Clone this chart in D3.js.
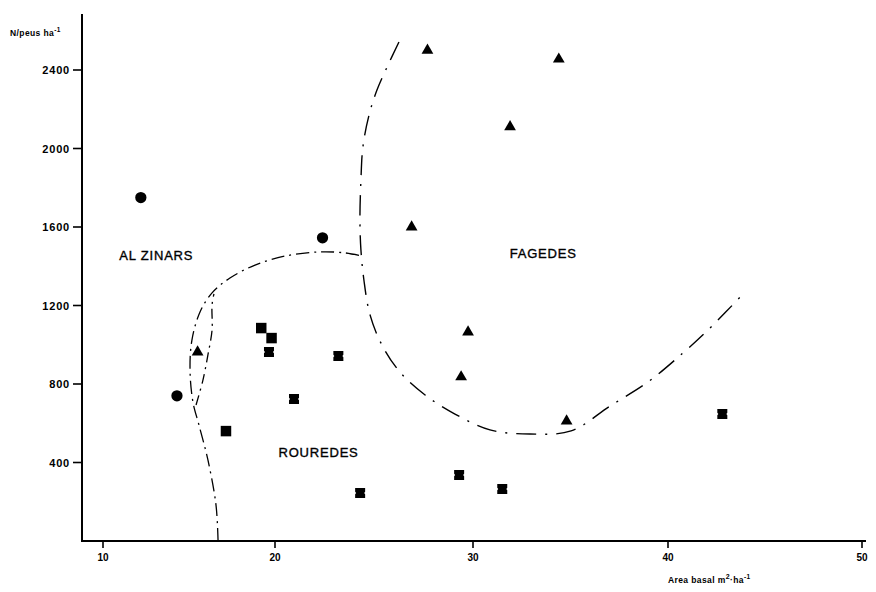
<!DOCTYPE html>
<html>
<head>
<meta charset="utf-8">
<script src="https://cdn.jsdelivr.net/npm/d3@7"></script>
<style>
  body { margin: 0; background: #fff; }
  svg { display: block; font-family: "Liberation Sans", Arial, sans-serif; }
</style>
</head>
<body>
<div id="chart"></div>
<script>
// points [area basal, peus/ha]
const alzinars = [[12.2, 1750], [14.3, 740], [22.4, 1545]];
const fagedes = [[27.7, 2500], [34.4, 2455], [31.9, 2110], [26.9, 1600],
                 [29.75, 1065], [29.4, 836], [34.8, 611], [15.5, 963]];
const rouredesPlens = [[19.2, 1085], [19.8, 1034], [17.15, 560]];
const rouredesMixtes = [[19.65, 963], [23.2, 943], [20.96, 724], [24.3, 245],
                        [29.3, 336], [31.5, 265], [42.8, 647]];

// limits between groups (hand drawn on the original)
const limitAlzinars = [[16.69, 0], [16.57, 183], [16.1, 413], [15.58, 591], [15.23, 708],
  [15.06, 871], [15.17, 1024], [15.64, 1167], [16.34, 1264], [17.38, 1340],
  [18.84, 1406], [20.51, 1452], [22.27, 1473], [23.54, 1468], [24.39, 1452]];
const limitAlzinarsInner = [[15.41, 693], [15.81, 820], [16.1, 948], [16.34, 1075],
  [16.34, 1203], [16.45, 1259]];
const limitFagedes = [[26.26, 2543], [25.66, 2415], [25.15, 2298], [24.75, 2171],
  [24.44, 2008], [24.34, 1839], [24.29, 1636], [24.34, 1483], [24.49, 1330],
  [24.8, 1152], [25.4, 999], [26.31, 861], [27.58, 744], [29.09, 647], [30.87, 566],
  [32.92, 545], [35.03, 561], [37.03, 688], [38.97, 810], [40.77, 958],
  [42.06, 1075], [44.02, 1274]];

const xTicks = [10, 20, 30, 40, 50];
const yTicks = [400, 800, 1200, 1600, 2000, 2400];

const labels = [
  {text: "AL ZINARS", x: 13.1, y: 1430},
  {text: "FAGEDES", x: 33.6, y: 1440},
  {text: "ROUREDES", x: 22.2, y: 430}
];

const width = 876, height = 592;

const svg = d3.select("#chart").append("svg")
  .attr("width", width)
  .attr("height", height);

// the drawn axis is not quite regular, so the scale follows the ticks
const x = d3.scaleLinear().domain(xTicks).range([103, 275, 473, 668, 862]);
const y = d3.scaleLinear().domain([0, 2400]).range([541, 70]);

// axes
svg.append("line")
  .attr("x1", 82).attr("x2", 82).attr("y1", 14).attr("y2", 542)
  .attr("stroke", "#000").attr("stroke-width", 2);
svg.append("line")
  .attr("x1", 81).attr("x2", 866).attr("y1", 541).attr("y2", 541)
  .attr("stroke", "#000").attr("stroke-width", 2);

const yAxis = svg.append("g");
yAxis.selectAll("line").data(yTicks).enter().append("line")
  .attr("x1", 73).attr("x2", 82)
  .attr("y1", d => y(d)).attr("y2", d => y(d))
  .attr("stroke", "#000").attr("stroke-width", 1.6);
yAxis.selectAll("text").data(yTicks).enter().append("text")
  .attr("x", 70).attr("y", d => y(d) + 4)
  .attr("text-anchor", "end")
  .style("font-size", "11px").style("font-weight", "bold").style("letter-spacing", "0.8px")
  .text(d => d);

const xAxis = svg.append("g");
xAxis.selectAll("line").data(xTicks).enter().append("line")
  .attr("x1", d => x(d)).attr("x2", d => x(d))
  .attr("y1", 541).attr("y2", 548)
  .attr("stroke", "#000").attr("stroke-width", 1.6);
xAxis.selectAll("text").data(xTicks).enter().append("text")
  .attr("x", d => x(d)).attr("y", 561)
  .attr("text-anchor", "middle")
  .style("font-size", "10px").style("font-weight", "bold")
  .text(d => d);

// axis titles
const yTitle = svg.append("text")
  .attr("x", 10).attr("y", 36)
  .style("font-size", "8.5px").style("font-weight", "bold").style("letter-spacing", "0.4px");
yTitle.append("tspan").text("N/peus ha");
yTitle.append("tspan").attr("dy", -4).style("font-size", "6.5px").text("-1");

const xTitle = svg.append("text")
  .attr("x", 668).attr("y", 583)
  .style("font-size", "8.5px").style("font-weight", "bold").style("letter-spacing", "0.4px");
xTitle.append("tspan").text("Area basal m");
xTitle.append("tspan").attr("dy", -4).style("font-size", "7px").text("2");
xTitle.append("tspan").attr("dy", 4).text("\u00b7ha");
xTitle.append("tspan").attr("dy", -4).style("font-size", "6.5px").text("-1");

// limits
const line = d3.line()
  .x(d => x(d[0]))
  .y(d => y(d[1]))
  .curve(d3.curveCatmullRom);

svg.append("path").datum(limitAlzinars)
  .attr("d", line).attr("fill", "none").attr("stroke", "#000")
  .attr("stroke-width", 1.3).attr("stroke-dasharray", "13,5,2,5");
svg.append("path").datum(limitAlzinarsInner)
  .attr("d", line).attr("fill", "none").attr("stroke", "#000")
  .attr("stroke-width", 1.3).attr("stroke-dasharray", "10,5,2,5");
svg.append("path").datum(limitFagedes)
  .attr("d", line).attr("fill", "none").attr("stroke", "#000")
  .attr("stroke-width", 1.4).attr("stroke-dasharray", "20,9,2,9");

// markers
const notchedSquare = {
  draw(ctx, size) {
    const s = Math.sqrt(size) / 2, n = s * 0.25, d = s * 0.2;
    ctx.moveTo(-s, -s);
    ctx.lineTo(s, -s);
    ctx.lineTo(s, -n);
    ctx.lineTo(s - d, 0);
    ctx.lineTo(s, n);
    ctx.lineTo(s, s);
    ctx.lineTo(-s, s);
    ctx.lineTo(-s, n);
    ctx.lineTo(-s + d, 0);
    ctx.lineTo(-s, -n);
    ctx.closePath();
  }
};

function drawPoints(data, type, size) {
  svg.append("g").selectAll("path").data(data).enter().append("path")
    .attr("transform", d => "translate(" + x(d[0]) + "," + y(d[1]) + ")")
    .attr("d", d3.symbol().type(type).size(size))
    .attr("fill", "#000");
}

drawPoints(alzinars, d3.symbolCircle, 100);
drawPoints(fagedes, d3.symbolTriangle, 60);
drawPoints(rouredesPlens, d3.symbolSquare, 110);
drawPoints(rouredesMixtes, notchedSquare, 100);

// group names
svg.append("g").selectAll("text").data(labels).enter().append("text")
  .attr("x", d => x(d.x)).attr("y", d => y(d.y))
  .attr("text-anchor", "middle")
  .attr("stroke", "#000").attr("stroke-width", 0.35)
  .style("font-size", "13px").style("letter-spacing", "0.8px")
  .text(d => d.text);
</script>
</body>
</html>
